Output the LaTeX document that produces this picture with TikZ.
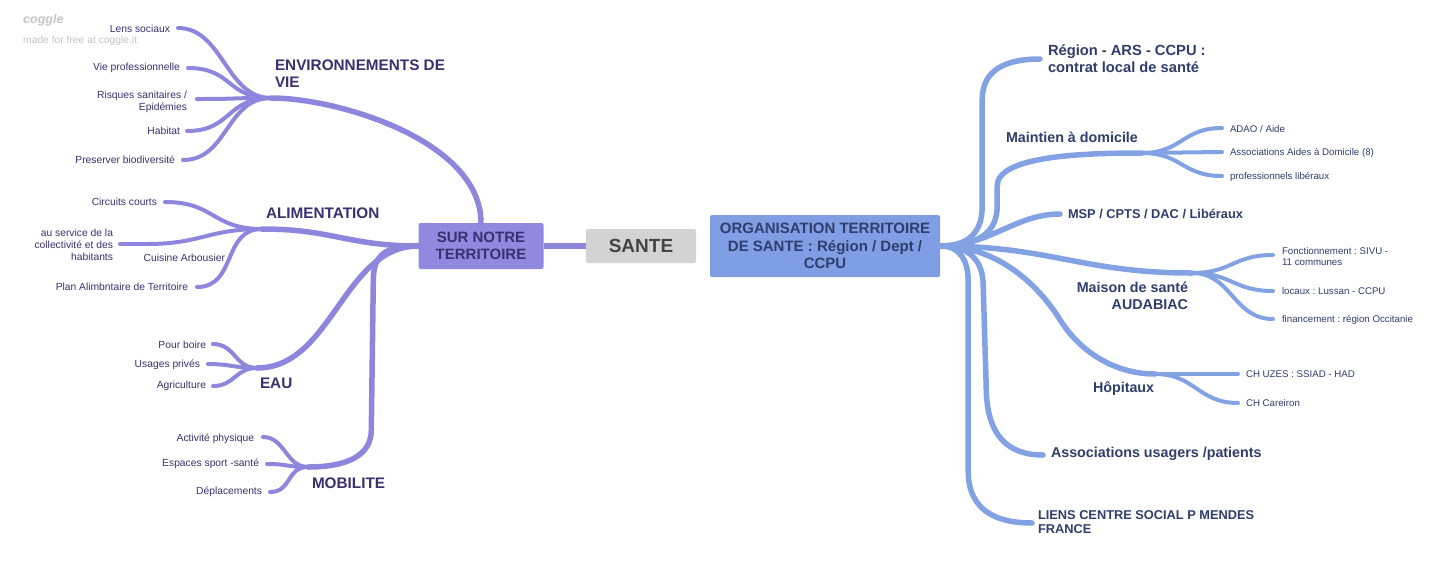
\documentclass[tikz,border=0pt]{standalone}
\usepackage{fontspec}
\setmainfont{Liberation Sans}
\frenchspacing
\definecolor{pur}{HTML}{8E86DD}
\definecolor{purbox}{HTML}{9189DF}
\definecolor{purtxt}{HTML}{3B3070}
\definecolor{blu}{HTML}{83A2E3}
\definecolor{blubox}{HTML}{7F9EE3}
\definecolor{blutxt}{HTML}{2F3E6C}
\definecolor{sgrey}{HTML}{D3D3D3}
\definecolor{stxt}{HTML}{444444}
\definecolor{wm}{HTML}{C4C4C4}
\tikzset{
  lsm/.style={inner sep=0pt, outer sep=0pt, font=\fontsize{10.3}{12}\selectfont, text=purtxt, anchor=east, align=right},
  rsm/.style={inner sep=0pt, outer sep=0pt, font=\fontsize{9.7}{11.5}\selectfont, text=blutxt, anchor=west, align=left},
  lbig/.style={inner sep=0pt, outer sep=0pt, font=\fontsize{15.3}{17}\selectfont\bfseries, text=purtxt},
  rbig/.style={inner sep=0pt, outer sep=0pt, font=\fontsize{14.3}{17}\selectfont\bfseries, text=blutxt},
  rmid/.style={inner sep=0pt, outer sep=0pt, font=\fontsize{12.8}{14.5}\selectfont\bfseries, text=blutxt},
  lmain/.style={draw=pur, line width=5.5pt, line cap=round},
  lsub/.style={draw=pur, line width=4pt, line cap=round},
  rmain/.style={draw=blu, line width=5.5pt, line cap=round},
  rsub/.style={draw=blu, line width=4pt, line cap=round},
  boxbase/.style={rounded corners=2pt, inner sep=0pt, align=center, font=\fontsize{15}{17.5}\selectfont\bfseries},
}
\begin{document}
\begin{tikzpicture}[x=1pt,y=-1pt]
\useasboundingbox (0,0) rectangle (1433,563);
\fill[white] (0,0) rectangle (1433,563);

% watermark
\node[anchor=west, inner sep=0pt, text=wm, font=\fontsize{12.5}{13}\selectfont\itshape\bfseries] (wm1) at (23,20) {coggle};
\node[anchor=west, inner sep=0pt, text=wm, font=\fontsize{10.3}{12}\selectfont] (wm2) at (23,41) {made for free at coggle.it};

% central boxes
\node[boxbase, fill=purbox, text=purtxt, minimum width=125pt, minimum height=46pt] (sur) at (481,246) {SUR NOTRE\\TERRITOIRE};
\node[boxbase, fill=sgrey, text=stxt, minimum width=110pt, minimum height=34pt, font=\fontsize{19}{21}\selectfont\bfseries] (sante) at (641,246) {SANTE};
\node[boxbase, fill=blubox, text=blutxt, minimum width=230pt, minimum height=62pt] (org) at (825,246) {ORGANISATION TERRITOIRE\\DE SANTE : Région / Dept /\\CCPU};

\draw[draw=pur, line width=6pt] (sante.west) -- (sur.east);

% ---------- left side ----------
\coordinate (envJ) at (271,98);
\coordinate (alJ) at (262,229);
\coordinate (eauJ) at (257,368);
\coordinate (mobJ) at (308,467);

\draw[lmain] (sur.north) .. controls +(0,-82) and +(67,0) .. (envJ);
\draw[lmain] (sur.west) .. controls +(-70,0) and +(70,0) .. (alJ);
\draw[lmain] (sur.west) .. controls +(-75,0) and +(75,0) .. (eauJ);
\draw[lmain] (sur.west) .. controls +(-35,0) and +(0,-25) .. ++(-45,35) -- ++(-2,149) .. controls +(0,25) and +(40,0) .. (mobJ);

% environnements
\coordinate (e1) at (178,28);
\coordinate (e2) at (188,68);
\coordinate (e3) at (197,99);
\coordinate (e4) at (187,131);
\coordinate (e5) at (183,160);
\foreach \p in {e1,e2,e3,e4,e5}{
  \draw[lsub] (envJ) .. controls +(-45,0) and +(45,0) .. (\p);
}
\node[lbig, anchor=west, align=left] (env) at (275,73.5) {ENVIRONNEMENTS DE\\VIE};
\node[lsm] (t1) at (170,29) {Lens sociaux};
\node[lsm] (t2) at (180,68) {Vie professionnelle};
\node[lsm] (t3) at (187,101.5) {Risques sanitaires /\\Epidémies};
\node[lsm] (t4) at (180,131) {Habitat};
\node[lsm] (t5) at (175,160) {Preserver biodiversité};

% alimentation
\coordinate (a1) at (165,202);
\coordinate (a2) at (147,244);
\coordinate (a2b) at (120,244);
\coordinate (a4) at (197,287);
\draw[lsub] (alJ) .. controls +(-50,0) and +(50,0) .. (a1);
\draw[lsub] (alJ) .. controls +(-55,0) and +(55,0) .. (a2);
\draw[lsub] (a2) -- (a2b);
\draw[lsub] (alJ) .. controls +(-40,0) and +(40,0) .. (a4);
\node[lbig, anchor=west] (alim) at (266,213) {ALIMENTATION};
\node[lsm] (t6) at (157,202) {Circuits courts};
\node[lsm] (t7) at (225,258) {Cuisine Arbousier};
\node[lsm] (t8) at (113,245) {au service de la\\collectivité et des\\habitants};
\node[lsm] (t9) at (188,287) {Plan Alimbntaire de Territoire};

% eau
\coordinate (p1) at (213,344);
\coordinate (p2) at (208,364);
\coordinate (p3) at (213,386);
\foreach \p in {p1,p2,p3}{
  \draw[lsub] (eauJ) .. controls +(-22,0) and +(22,0) .. (\p);
}
\node[lbig, anchor=west] (eau) at (260,383) {EAU};
\node[lsm] (t10) at (206,345) {Pour boire};
\node[lsm] (t11) at (200,365) {Usages privés};
\node[lsm] (t12) at (206,386) {Agriculture};

% mobilite
\coordinate (m1) at (263,437);
\coordinate (m2) at (267,464);
\coordinate (m3) at (270,492);
\foreach \p in {m1,m2,m3}{
  \draw[lsub] (mobJ) .. controls +(-22,0) and +(22,0) .. (\p);
}
\node[lbig, anchor=west] (mob) at (312,483) {MOBILITE};
\node[lsm] (t13) at (254,439) {Activité physique};
\node[lsm] (t14) at (259,464) {Espaces sport -santé};
\node[lsm] (t15) at (262,492) {Déplacements};

% ---------- right side ----------
\coordinate (regE) at (1040,59);
\coordinate (mdJ) at (1142,153);
\coordinate (mspE) at (1060,214);
\coordinate (msJ) at (1192,273);
\coordinate (hoJ) at (1155,374);
\coordinate (asE) at (1043,455);
\coordinate (liE) at (1032,523);

\draw[rmain] (org.east) .. controls +(30,0) and +(0,25) .. ++(42,-40) -- ++(0,-106) .. controls +(0,-30) and +(-35,0) .. (regE);
\draw[rmain] (org.east) .. controls +(40,0) and +(0,25) .. ++(57,-40) -- ++(0,-20) .. controls +(0,-30) and +(-60,0) .. (mdJ);
\draw[rmain] (org.east) .. controls +(50,0) and +(-45,0) .. (mspE);
\draw[rmain] (org.east) .. controls +(110,0) and +(-110,0) .. (msJ);
\draw[rmain] (org.east) .. controls +(60,0) and +(-20,-32) .. ++(120,74) .. controls +(20,32) and +(-40,0) .. (hoJ);
\draw[rmain] (org.east) .. controls +(30,0) and +(0,-25) .. ++(43,40) -- ++(3,100) .. controls +(0,50) and +(-35,0) .. (asE);
\draw[rmain] (org.east) .. controls +(20,0) and +(0,-20) .. ++(28,35) -- ++(0,190) .. controls +(0,40) and +(-35,0) .. (liE);

\node[rbig, anchor=west, align=left, font=\fontsize{14.7}{17}\selectfont\bfseries] (reg) at (1048,58.5) {Région - ARS - CCPU :\\contrat local de santé};
\node[rbig, anchor=west] (md) at (1006,137) {Maintien à domicile};
\node[rmid, anchor=west] (msp) at (1068,214) {MSP / CPTS / DAC / Libéraux};
\node[rbig, anchor=east, align=right] (ms) at (1188,296) {Maison de santé\\AUDABIAC};
\node[rbig, anchor=west] (ho) at (1093,389) {Hôpitaux};
\node[rbig, anchor=west] (as) at (1051,454) {Associations usagers /patients};
\node[rmid, anchor=west, align=left] (li) at (1038,522) {LIENS CENTRE SOCIAL P MENDES\\FRANCE};

% maintien subs
\coordinate (d1) at (1222,128);
\coordinate (d2) at (1222,152);
\coordinate (d3) at (1222,176);
\foreach \p in {d1,d2,d3}{
  \draw[rsub] (mdJ) .. controls +(40,0) and +(-40,0) .. (\p);
}
\node[rsm] (r1) at (1230,129) {ADAO / Aide};
\node[rsm] (r2) at (1230,153) {Associations Aides à Domicile (8)};
\node[rsm] (r3) at (1230,177) {professionnels libéraux};

% maison subs
\coordinate (s1) at (1273,255);
\coordinate (s2) at (1273,291);
\coordinate (s3) at (1273,319);
\foreach \p in {s1,s2,s3}{
  \draw[rsub] (msJ) .. controls +(40,0) and +(-40,0) .. (\p);
}
\node[rsm] (r4) at (1282,256.5) {Fonctionnement : SIVU -\\11 communes};
\node[rsm] (r5) at (1282,291) {locaux : Lussan - CCPU};
\node[rsm] (r6) at (1282,320) {financement : région Occitanie};

% hopitaux subs
\coordinate (h1) at (1238,374);
\coordinate (h2) at (1238,403);
\foreach \p in {h1,h2}{
  \draw[rsub] (hoJ) .. controls +(40,0) and +(-40,0) .. (\p);
}
\node[rsm] (r7) at (1246,374) {CH UZES : SSIAD - HAD};
\node[rsm] (r8) at (1246,403) {CH Careiron};
\end{tikzpicture}
\end{document}
